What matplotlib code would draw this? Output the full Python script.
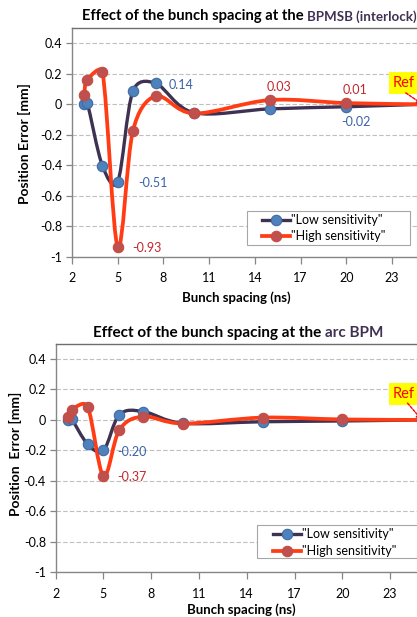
"""Bunch spacing effect on BPM position error (two panels)."""

import numpy as np
import matplotlib.pyplot as plt
from matplotlib.path import Path
from matplotlib.patches import PathPatch, Rectangle
from matplotlib.lines import Line2D
from matplotlib.ticker import FuncFormatter

plt.rcParams["font.family"] = ["Lato", "DejaVu Sans"]

W, H = 417, 617

# data
spacing = [2.8, 3, 4, 5, 6, 7.5, 10, 15, 20, 25]
bpmsb_low = [0.005, 0.01, -0.405, -0.51, 0.087, 0.137, -0.055, -0.03, -0.016, 0.0]
bpmsb_high = [0.06, 0.16, 0.21, -0.935, -0.173, 0.054, -0.06, 0.028, 0.008, 0.0]
arc_low = [0.0, 0.005, -0.158, -0.20, 0.033, 0.055, -0.022, -0.012, -0.007, 0.0]
arc_high = [0.02, 0.066, 0.087, -0.368, -0.066, 0.022, -0.024, 0.015, 0.003, 0.0]
x_ticks = [2, 5, 8, 11, 14, 17, 20, 23]
y_ticks = [-1, -0.8, -0.6, -0.4, -0.2, 0, 0.2, 0.4]

LOW_LINE = "#3f3151"
LOW_FACE = "#4f81bd"
LOW_EDGE = "#3d6aa3"
HIGH_LINE = "#ff3c14"
HIGH_FACE = "#c0504d"
HIGH_EDGE = "#c84a40"
LOW_TXT = "#3a62a8"
HIGH_TXT = "#c0282d"


def px_box(left, top, width, height):
    """Pixel box (from top-left) -> figure fraction rect."""
    return [left / W, 1 - (top + height) / H, width / W, height / H]


def fx(x):
    return x / W


def fy(y):
    return 1 - y / H


def smooth_path(ax, xs, ys):
    """Excel-like smoothed line as a Bezier path (controls built in screen space)."""
    pts = ax.transData.transform(np.column_stack([xs, ys]))
    n = len(pts)
    verts = [pts[0]]
    codes = [Path.MOVETO]
    for i in range(n - 1):
        p0 = pts[max(i - 1, 0)]
        p1 = pts[i]
        p2 = pts[i + 1]
        p3 = pts[min(i + 2, n - 1)]
        seg = np.hypot(*(p2 - p1))
        handles = []
        for h in ((p2 - p0) / 6, (p3 - p1) / 6):
            hl = np.hypot(*h)
            if hl > seg / 2 and hl > 0:
                h = h * (seg / 2) / hl
            handles.append(h)
        verts += [p1 + handles[0], p2 - handles[1], p2]
        codes += [Path.CURVE4] * 3
    verts = ax.transData.inverted().transform(np.array(verts))
    return Path(verts, codes)


def fmt_y(v, pos):
    if abs(v) < 1e-9:
        return "0"
    if abs(v - round(v)) < 1e-9:
        return f"{int(round(v))}"
    return f"{v:.1f}"


def setup_axes(ax):
    ax.set_xlim(2, 26)
    ax.set_ylim(-1, 0.5)
    ax.set_xticks(x_ticks)
    ax.set_yticks(y_ticks)
    ax.yaxis.set_major_formatter(FuncFormatter(fmt_y))
    ax.grid(True, axis="y", color="#bfbfbf", ls=(0, (4, 2)), lw=0.8, zorder=0)
    for s in ax.spines.values():
        s.set_color("#868686")
        s.set_linewidth(1.0)
    ax.spines["top"].set_color("#6e6e6e")
    ax.tick_params(axis="both", direction="out", length=4, width=0.9,
                   color="#868686", labelsize=9, pad=3)
    ax.tick_params(axis="x", length=5, pad=6)
    ax.set_axisbelow(True)


def draw_series(ax, low, high):
    for ys, col, lw in ((low, LOW_LINE, 2.4), (high, HIGH_LINE, 2.7)):
        patch = PathPatch(smooth_path(ax, spacing, ys), facecolor="none",
                          edgecolor=col, lw=lw, capstyle="round",
                          joinstyle="round", zorder=3, clip_on=True)
        ax.add_patch(patch)
    ax.plot(spacing, low, ls="none", marker="o", ms=7.5, mfc=LOW_FACE,
            mec=LOW_EDGE, mew=0.8, zorder=4, clip_on=True)
    ax.plot(spacing, high, ls="none", marker="o", ms=7.5, mfc=HIGH_FACE,
            mec=HIGH_EDGE, mew=0.8, zorder=4, clip_on=True)


def add_legend(fig, box, anchor):
    # box drawn by hand so the padding matches the Excel legend
    l, t, r, b = box
    fig.add_artist(Rectangle((fx(l), fy(b)), (r - l) / W, (b - t) / H,
                             transform=fig.transFigure, facecolor="white",
                             edgecolor="#a6a6a6", lw=0.8, zorder=4))
    handles = [
        Line2D([], [], color=LOW_LINE, lw=2.4, marker="o", ms=7.5,
               mfc=LOW_FACE, mec=LOW_EDGE, mew=0.8),
        Line2D([], [], color=HIGH_LINE, lw=2.7, marker="o", ms=7.5,
               mfc=HIGH_FACE, mec=HIGH_EDGE, mew=0.8),
    ]
    leg = fig.legend(handles, ['"Low sensitivity"', '"High sensitivity"'],
                     loc="upper left", bbox_to_anchor=(fx(anchor[0]), fy(anchor[1])),
                     bbox_transform=fig.transFigure, borderaxespad=0,
                     fontsize=9, frameon=False, handlelength=2.2,
                     handletextpad=0.15, labelspacing=0.36, borderpad=0)
    leg.set_zorder(5)
    return leg


def two_tone_title(fig, ax, x, y, first, second, size1, size2):
    t1 = fig.text(fx(x), fy(y), first, fontsize=size1, fontweight="bold",
                  color="black", ha="left", va="center")
    ax.annotate(second, xy=(1, 0), xycoords=t1, fontsize=size2,
                fontweight="bold", color="#403152",
                ha="left", va="bottom", annotation_clip=False)


def add_ref(ax, text_xy, arrow_from):
    ax.text(*text_xy, "Ref", fontsize=10.5, color="#ff0000", ha="right",
            va="center", clip_on=False, zorder=6,
            bbox=dict(boxstyle="square,pad=0.3", fc="#ffff00", ec="none"))
    ax.annotate("", xy=(25, 0), xytext=arrow_from, annotation_clip=False,
                arrowprops=dict(arrowstyle="-|>", color="#ff0000", lw=1.0,
                                linestyle=(0, (2, 1)), mutation_scale=8,
                                shrinkA=0, shrinkB=0), zorder=6)


fig = plt.figure(figsize=(W / 100, H / 100), dpi=100)

# ---- top panel: BPMSB (interlock)
ax1 = fig.add_axes(px_box(72, 28.1, 24 * 15.24, 228.6))
setup_axes(ax1)
draw_series(ax1, bpmsb_low, bpmsb_high)
ax1.text(8.36, 0.125, "0.14", color=LOW_TXT, fontsize=9, va="center")
ax1.text(6.33, -0.515, "-0.51", color=LOW_TXT, fontsize=9, va="center")
ax1.text(5.94, -0.94, "-0.93", color=HIGH_TXT, fontsize=9, va="center")
ax1.text(15.6, 0.115, "0.03", color=HIGH_TXT, fontsize=9, va="center", ha="center")
ax1.text(20.57, 0.096, "0.01", color=HIGH_TXT, fontsize=9, va="center", ha="center")
ax1.text(20.6, -0.116, "-0.02", color=LOW_TXT, fontsize=9, va="center", ha="center")
add_ref(ax1, (24.5, 0.14), (23.9, 0.075))
add_legend(fig, (247, 211, 410, 245), (262, 214))

# ---- bottom panel: arc BPM
ax2 = fig.add_axes(px_box(55.7, 343.7, 24 * 15.92, 228.6))
setup_axes(ax2)
draw_series(ax2, arc_low, arc_high)
ax2.text(5.87, -0.208, "-0.20", color=LOW_TXT, fontsize=9, va="center")
ax2.text(5.87, -0.372, "-0.37", color=HIGH_TXT, fontsize=9, va="center")
add_ref(ax2, (24.57, 0.17), (24.1, 0.11))
add_legend(fig, (257, 525, 425, 558), (273, 528.5))

# titles and axis labels placed in figure pixels
two_tone_title(fig, ax1, 81.5, 16, "Effect of the bunch spacing at the ",
               "BPMSB (interlock)", 10.6, 9.6)
two_tone_title(fig, ax2, 93.3, 333, "Effect of the bunch spacing at the ",
               "arc BPM", 11, 11)

fig.text(fx(236), fy(297.7), "Bunch spacing (ns)", fontsize=9.5,
         fontweight="bold", ha="center", va="center")
fig.text(fx(241), fy(610), "Bunch spacing (ns)", fontsize=9.5,
         fontweight="bold", ha="center", va="center")
fig.text(fx(24), fy(144), "Position Error [mm]", fontsize=10,
         fontweight="bold", rotation=90, ha="center", va="center")
fig.text(fx(15), fy(454), "Position  Error [mm]", fontsize=10,
         fontweight="bold", rotation=90, ha="center", va="center")

fig.savefig("out.png", dpi=100)
plt.close(fig)
